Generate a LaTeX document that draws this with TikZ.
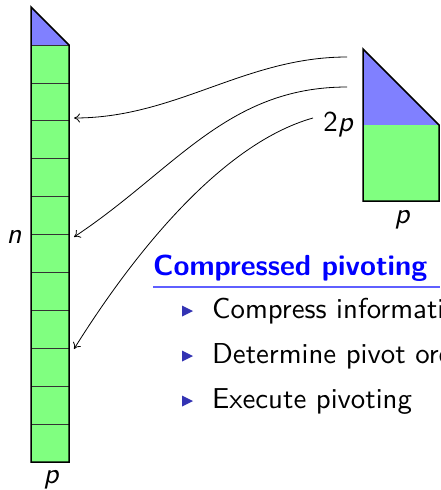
\documentclass[tikz,border=0pt]{standalone}
\usepackage{fontspec}
\setsansfont{lmsans10-regular.otf}[ItalicFont=lmsans10-oblique.otf, BoldFont=lmsans10-bold.otf, BoldItalicFont=lmsans10-boldoblique.otf]
\usetikzlibrary{arrows.meta}
\definecolor{bfill}{RGB}{128,128,255}
\definecolor{gfill}{RGB}{128,255,128}
\definecolor{titleblue}{RGB}{0,0,255}
\definecolor{rulecol}{RGB}{95,95,255}
\definecolor{bulletcol}{RGB}{51,51,179}
\tikzset{
  outer/.style={line width=1.5pt, line join=miter},
  rowline/.style={line width=0.8pt, black!80},
  conn/.style={line width=0.8pt, -{To[length=6pt,width=9pt]}},
  lbl/.style={inner sep=0pt, anchor=base, font=\fontsize{28.8}{34}\selectfont\sffamily\itshape},
  txt/.style={inner sep=0pt, anchor=base west, font=\fontsize{28.8}{34}\selectfont\sffamily},
  bullet/.style={fill=bulletcol},
}
\begin{document}
\begin{tikzpicture}[x=1pt,y=-1pt]
\clip (0,0) rectangle (440,490);
\fill[white] (0,0) rectangle (440,490);
% left tall column
\fill[bfill] (31,7) -- (69,45) -- (31,45) -- cycle;
\fill[gfill] (31,45) rectangle (69,462);
\foreach \i in {0,...,10} {
  \draw[rowline] (31,{45+\i*37.9}) -- (69,{45+\i*37.9});
}
\draw[outer] (31,7) -- (69,45) -- (69,462) -- (31,462) -- cycle;
\node[lbl] (n) at (14,243) {n};
\node[lbl] (pl) at (51,483) {p};
% right block
\fill[bfill] (363,49) -- (439,125) -- (363,125) -- cycle;
\fill[gfill] (363,125) rectangle (439,201);
\draw[outer] (363,49) -- (439,125) -- (439,201) -- (363,201) -- cycle;
\node[lbl] (twop) at (338,131.7) {{\upshape 2}p};
\node[lbl] (pr) at (402,223) {p};
% connectors
\coordinate (s1) at (347,57);
\coordinate (e1) at (74,118);
\coordinate (s2) at (347,87);
\coordinate (e2) at (74,237);
\coordinate (s3) at (313,118);
\coordinate (e3) at (74,349);
\draw[conn] (s1) .. controls (245,57) and (176,118) .. (e1);
\draw[conn] (s2) .. controls (227,87) and (175,170) .. (e2);
\draw[conn] (s3) .. controls (217,145) and (127,264) .. (e3);
% text block
\node[txt, font=\fontsize{29}{34}\selectfont\sffamily\bfseries, text=titleblue] (title) at (153,275) {Compressed pivoting};
\coordinate (rl) at (153,287);
\coordinate (rr) at (440,287);
\draw[line width=1.4pt, rulecol] (rl) -- (rr);
\fill[bullet] (182,305.5) -- (193,311) -- (182,316.5) -- cycle;
\node[txt] (b1) at (212,318) {Compress information};
\fill[bullet] (182,350.5) -- (193,356) -- (182,361.5) -- cycle;
\node[txt] (b2) at (212,363) {Determine pivot order};
\fill[bullet] (182,395.5) -- (193,401) -- (182,406.5) -- cycle;
\node[txt] (b3) at (212,408) {Execute pivoting};
\end{tikzpicture}
\end{document}
